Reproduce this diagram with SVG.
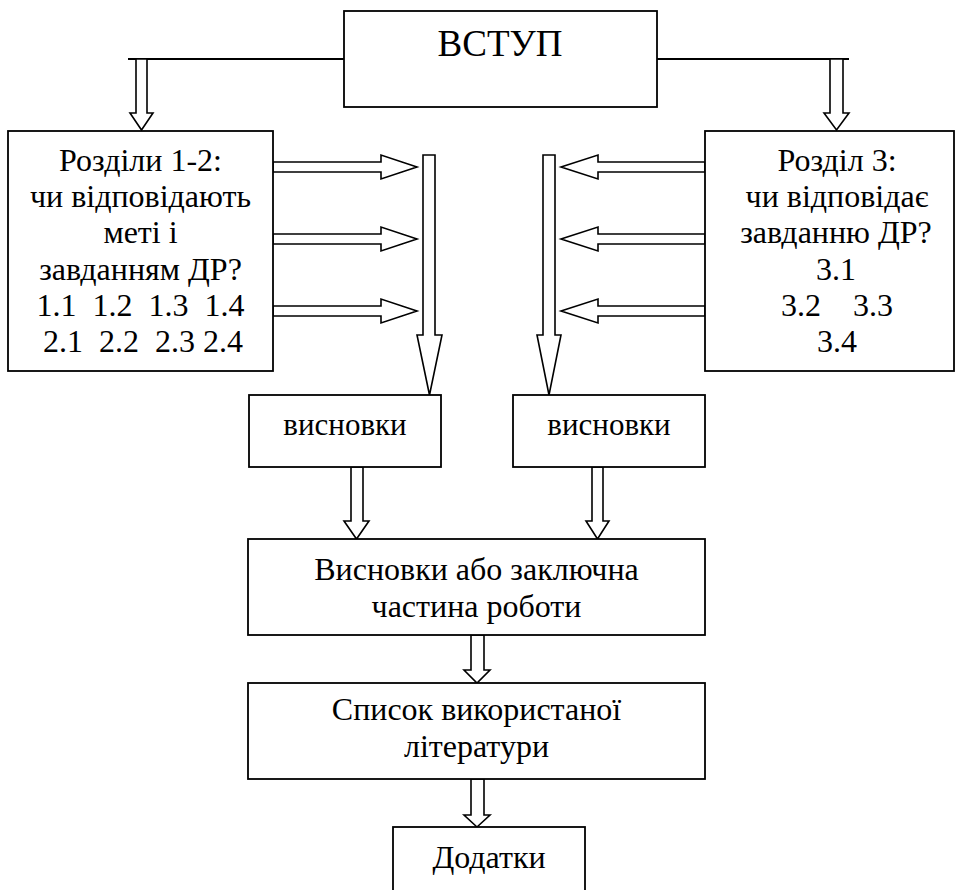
<svg xmlns="http://www.w3.org/2000/svg" width="958" height="890" viewBox="0 0 958 890">
<style>
.box{fill:#fff;stroke:#000;stroke-width:1.8}
.arr{fill:#fff;stroke:#000;stroke-width:1.6;stroke-linejoin:miter}
.ln{fill:none;stroke:#000;stroke-width:1.8}
text{font-family:'Liberation Serif','Times New Roman',serif;font-size:32px;fill:#000;text-anchor:middle}
text.big{font-size:37px}
text.sm{font-size:31px}
</style>
<rect width="958" height="890" fill="#fff"/>
<g id="connectors">
<line class="ln" x1="128" y1="59" x2="344" y2="59"/>
<line class="ln" x1="657" y1="59" x2="849" y2="59"/>
<polygon class="arr" points="136,59 147,59 147,113 153,113 141.5,130 130,113 136,113"/>
<polygon class="arr" points="830,59 843,59 843,113 849,113 836.5,130 824,113 830,113"/>
<polygon class="arr" points="273,162 381,162 381,155 417,167 381,179 381,172 273,172"/>
<polygon class="arr" points="273,234 381,234 381,227 417,239 381,251 381,244 273,244"/>
<polygon class="arr" points="273,306 381,306 381,299 417,311 381,323 381,316 273,316"/>
<polygon class="arr" points="705,162 598,162 598,155 561,167 598,179 598,172 705,172"/>
<polygon class="arr" points="705,234 598,234 598,227 561,239 598,251 598,244 705,244"/>
<polygon class="arr" points="705,306 598,306 598,299 561,311 598,323 598,316 705,316"/>
<polygon class="arr" points="423,155 435,155 435,335 442,335 429.5,395 417,335 423,335"/>
<polygon class="arr" points="543,155 555,155 555,335 561,335 549,395 537,335 543,335"/>
<polygon class="arr" points="351,467 363,467 363,521 369,521 356.5,539 344,521 351,521"/>
<polygon class="arr" points="592,467 603,467 603,521 609,521 597.5,539 586,521 592,521"/>
<polygon class="arr" points="471,635 484,635 484,670 490,670 477,683 464,670 471,670"/>
<polygon class="arr" points="471,779 484,779 484,815 490,815 477,827 464,815 471,815"/>
</g>
<g id="vstup">
<rect class="box" x="344" y="11" width="313" height="96"/>
<text class="big" x="500" y="56">ВСТУП</text>
</g>
<g id="rozdily12">
<rect class="box" x="8" y="131" width="265" height="240"/>
<text x="140.5" y="171">Розділи 1-2:</text>
<text x="140.5" y="207">чи відповідають</text>
<text x="140.5" y="243">меті і</text>
<text x="140.5" y="280">завданням ДР?</text>
<text x="140.5" y="316" xml:space="preserve">1.1  1.2  1.3  1.4</text>
<text x="143" y="352" xml:space="preserve">2.1  2.2  2.3 2.4</text>
</g>
<g id="rozdil3">
<rect class="box" x="705" y="131" width="249" height="240"/>
<text x="837" y="171">Розділ 3:</text>
<text x="837" y="207">чи відповідає</text>
<text x="836" y="243">завданню ДР?</text>
<text x="836" y="280">3.1</text>
<text x="837" y="316" xml:space="preserve">3.2    3.3</text>
<text x="837" y="352">3.4</text>
</g>
<g id="vysnovky1">
<rect class="box" x="249" y="395" width="192" height="72"/>
<text class="sm" x="345" y="435">висновки</text>
</g>
<g id="vysnovky2">
<rect class="box" x="513" y="395" width="192" height="72"/>
<text class="sm" x="609" y="435">висновки</text>
</g>
<g id="zakliuchna">
<rect class="box" x="248" y="539" width="457" height="96"/>
<text x="476.5" y="580">Висновки або заключна</text>
<text x="476.5" y="617">частина роботи</text>
</g>
<g id="spysok">
<rect class="box" x="248" y="683" width="457" height="96"/>
<text x="476.5" y="720">Список використаної</text>
<text x="476.5" y="757">літератури</text>
</g>
<g id="dodatky">
<rect class="box" x="393" y="827" width="192" height="80"/>
<text x="489" y="868">Додатки</text>
</g>
</svg>
